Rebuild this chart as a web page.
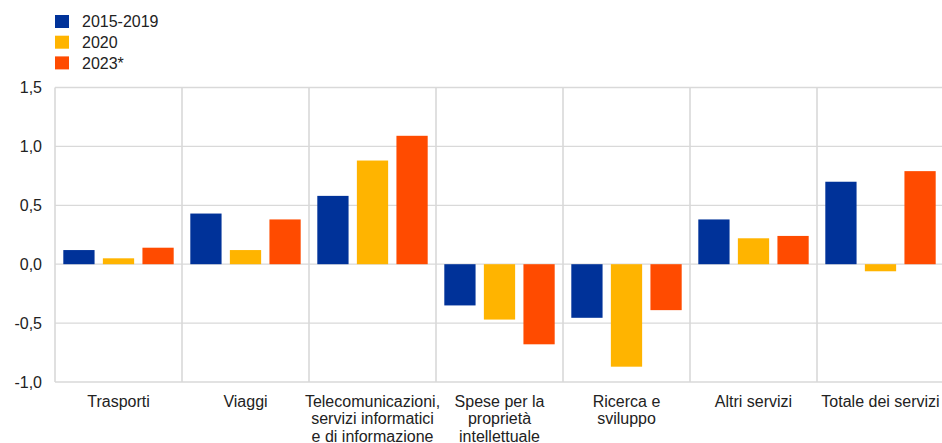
<!DOCTYPE html>
<html>
    <head>
        <title>Servizi</title>
        <meta charset="utf-8" />
        <script src="https://d3js.org/d3.v7.min.js"></script>
        <style>
            body {
                margin: 0;
                background-color: white;
            }
            svg {
                display: block;
                font-family: 'Liberation Sans', Arial, sans-serif;
            }
        </style>
    </head>
    <body>
        <svg></svg>
        <script>
            // categorie (righe separate da \n)
            const categories = [
                'Trasporti',
                'Viaggi',
                'Telecomunicazioni,\nservizi informatici\ne di informazione',
                'Spese per la\nproprietà\nintellettuale',
                'Ricerca e\nsviluppo',
                'Altri servizi',
                'Totale dei servizi',
            ]
            const seriesNames = ['2015-2019', '2020', '2023*']
            const values2015 = [0.12, 0.43, 0.58, -0.35, -0.455, 0.38, 0.7]
            const values2020 = [0.05, 0.12, 0.88, -0.47, -0.87, 0.22, -0.06]
            const values2023 = [0.14, 0.38, 1.09, -0.68, -0.39, 0.24, 0.79]
            const yTicks = [-1.0, -0.5, 0.0, 0.5, 1.0, 1.5]

            const colors = ['#003299', '#FFB400', '#FF4B00']
            const allValues = [values2015, values2020, values2023]

            const width = 942
            const height = 443
            const margin = { left: 55, right: -2, top: 87.5, bottom: 61 }

            const svg = d3
                .select('svg')
                .attr('width', width)
                .attr('height', height)

            const x0 = d3
                .scaleBand()
                .domain(categories)
                .range([margin.left, width - margin.right])

            const x1 = d3
                .scaleBand()
                .domain(seriesNames)
                .range([0, x0.bandwidth()])
                .paddingInner(0.21)
                .paddingOuter(0.21)

            const y = d3
                .scaleLinear()
                .domain([-1.0, 1.5])
                .range([height - margin.bottom, margin.top])

            const fmt = (v) => d3.format('.1f')(v).replace('.', ',').replace('−', '-')

            // griglia orizzontale
            svg.append('g')
                .selectAll('line')
                .data(yTicks)
                .join('line')
                .attr('x1', margin.left)
                .attr('x2', width)
                .attr('y1', (d) => y(d))
                .attr('y2', (d) => y(d))
                .style('stroke', '#d9d9d9')
                .style('stroke-width', '1.3px')

            // separatori verticali
            svg.append('g')
                .selectAll('line')
                .data(categories)
                .join('line')
                .attr('x1', (d) => x0(d))
                .attr('x2', (d) => x0(d))
                .attr('y1', y(1.5))
                .attr('y2', y(-1.0))
                .style('stroke', '#d9d9d9')
                .style('stroke-width', '1.6px')

            // etichette asse y
            svg.append('g')
                .selectAll('text')
                .data(yTicks)
                .join('text')
                .attr('x', 42)
                .attr('y', (d) => y(d))
                .attr('dy', '0.35em')
                .attr('text-anchor', 'end')
                .style('font-size', '16px')
                .style('fill', '#222')
                .text((d) => fmt(d))

            // barre
            const groups = svg
                .append('g')
                .selectAll('g')
                .data(categories)
                .join('g')
                .attr('transform', (d) => `translate(${x0(d)},0)`)

            groups
                .selectAll('rect')
                .data((d, i) =>
                    seriesNames.map((s, j) => ({ s: s, v: allValues[j][i], c: colors[j] }))
                )
                .join('rect')
                .attr('x', (d) => x1(d.s))
                .attr('width', x1.bandwidth())
                .attr('y', (d) => y(Math.max(0, d.v)))
                .attr('height', (d) => Math.abs(y(d.v) - y(0)))
                .style('fill', (d) => d.c)

            // etichette categorie
            groups
                .append('text')
                .attr('x', x0.bandwidth() / 2)
                .attr('y', 406.5)
                .attr('text-anchor', 'middle')
                .style('font-size', '16px')
                .style('fill', '#222')
                .selectAll('tspan')
                .data((d) => d.split('\n'))
                .join('tspan')
                .attr('x', x0.bandwidth() / 2)
                .attr('dy', (d, i) => (i === 0 ? 0 : 17.6))
                .text((d) => d)

            // legenda
            const legend = svg
                .append('g')
                .selectAll('g')
                .data(seriesNames)
                .join('g')
                .attr('transform', (d, i) => `translate(55,${15 + i * 20.7})`)

            legend
                .append('rect')
                .attr('width', 14)
                .attr('height', 13)
                .style('fill', (d, i) => colors[i])

            legend
                .append('text')
                .attr('x', 27)
                .attr('y', 6.5)
                .attr('dy', '0.35em')
                .style('font-size', '16px')
                .style('fill', '#222')
                .text((d) => d)
        </script>
    </body>
</html>
